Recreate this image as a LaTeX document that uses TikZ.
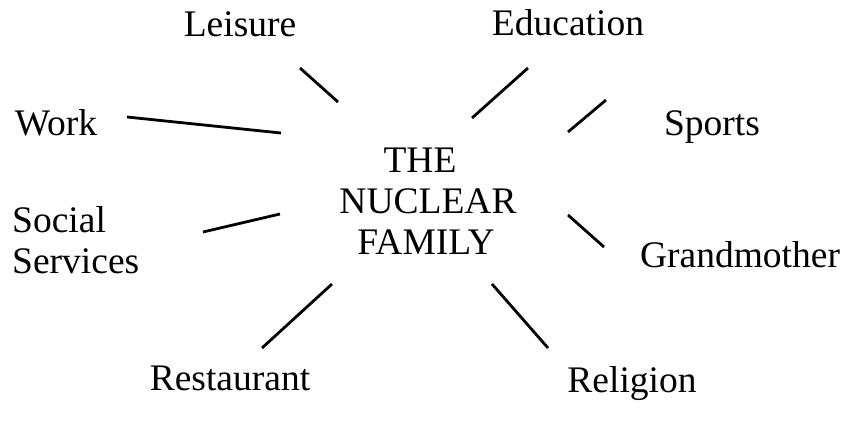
\documentclass[tikz,border=0pt]{standalone}
\usepackage{fontspec}
\setmainfont{Liberation Serif}
\begin{document}
\begin{tikzpicture}[x=1pt,y=-1pt,
  lbl/.style={inner sep=0pt,anchor=base,font=\fontsize{37.5}{41}\selectfont},
  spoke/.style={line width=2.8pt}]
\useasboundingbox (0,0) rectangle (849,421);
\node[lbl] (leisure) at (240,36) {Leisure};
\node[lbl] (education) at (568,35) {Education};
\node[lbl] (sports) at (712,135) {Sports};
\node[lbl] (work) at (56,135) {Work};
\node[lbl,anchor=base west] (social) at (12,232) {Social};
\node[lbl,anchor=base west] (services) at (12,273) {Services};
\node[lbl] (grand) at (740,267) {Grandmother};
\node[lbl] (rest) at (230,390) {Restaurant};
\node[lbl] (religion) at (632,392) {Religion};
\node[lbl] (the) at (420,172) {THE};
\node[lbl] (nuclear) at (428,213) {NUCLEAR};
\node[lbl] (family) at (426,254) {FAMILY};
\coordinate (l1) at (300,68); \coordinate (l2) at (338,102);
\coordinate (e1) at (528,68); \coordinate (e2) at (472,118);
\coordinate (s1) at (606,100); \coordinate (s2) at (568,132);
\coordinate (w1) at (127,117); \coordinate (w2) at (281,133);
\coordinate (ss1) at (203,232); \coordinate (ss2) at (280,214);
\coordinate (g1) at (568,215); \coordinate (g2) at (604,247);
\coordinate (r1) at (332,284); \coordinate (r2) at (262,348);
\coordinate (re1) at (492,284); \coordinate (re2) at (548,348);
\draw[spoke] (l1) -- (l2);
\draw[spoke] (e1) -- (e2);
\draw[spoke] (s1) -- (s2);
\draw[spoke] (w1) -- (w2);
\draw[spoke] (ss1) -- (ss2);
\draw[spoke] (g1) -- (g2);
\draw[spoke] (r1) -- (r2);
\draw[spoke] (re1) -- (re2);
\end{tikzpicture}
\end{document}
